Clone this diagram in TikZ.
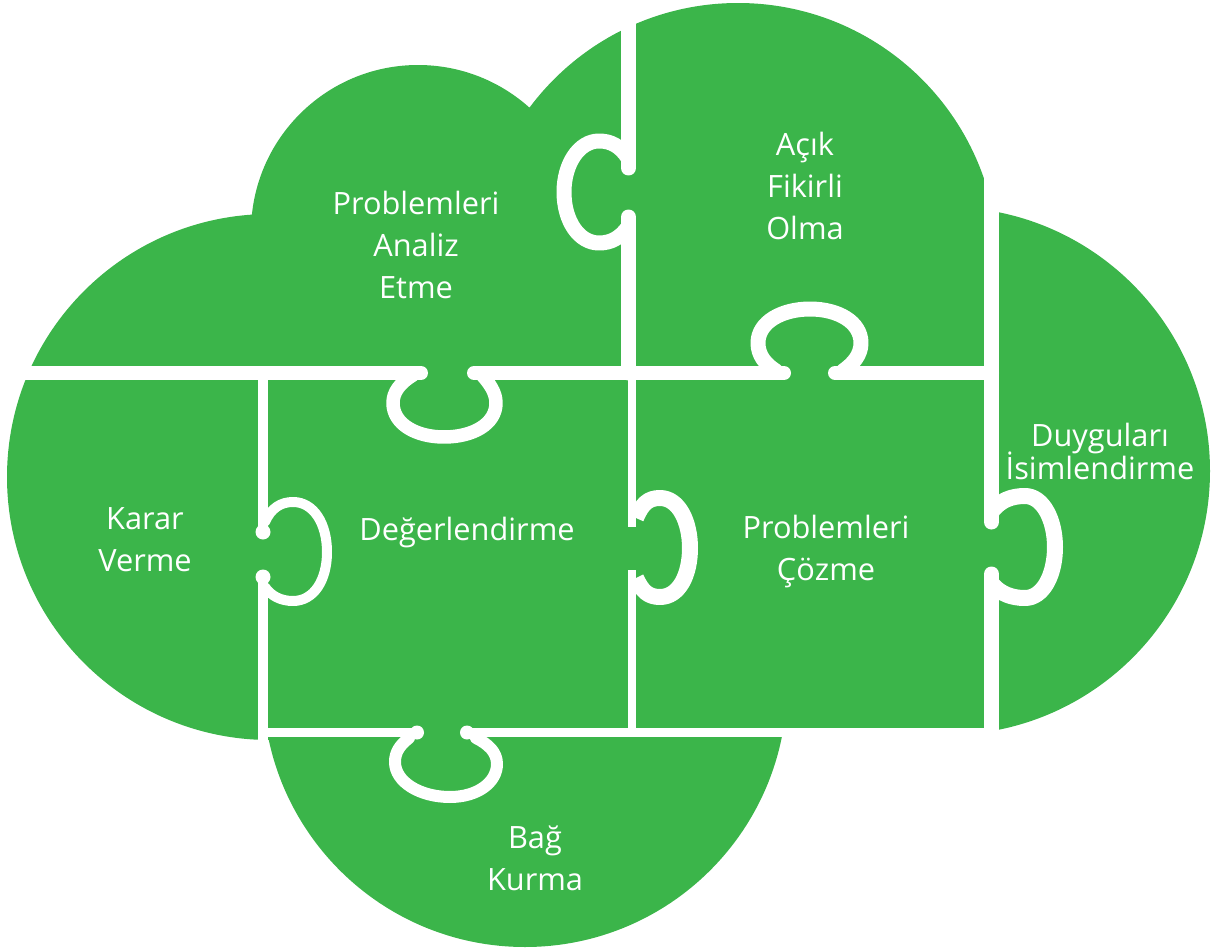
\documentclass[tikz,border=0pt]{standalone}
\usepackage{fontspec}
\setmainfont{Open Sans}
\definecolor{leaf}{RGB}{59,181,74}
\newcommand\tightlines{\lineskiplimit=-50pt\relax}

\begin{document}
\begin{tikzpicture}[x=0.02cm, y=-0.02cm,
  seam/.style={draw=white, line width=#1, line cap=round},
  flatseam/.style={draw=white, line width=#1},
  loopline/.style={draw=white, line width=#1, line cap=round, line join=round},
  flatloop/.style={draw=white, line width=#1, line join=round},
  bulb/.style={fill=white},
  piecetext/.style={text=white, align=center, inner sep=0pt,
    font=\fontsize{17.5}{23.9}\selectfont\tightlines},
]
\useasboundingbox (0,0) rectangle (1215,950);

% cloud body: circles and the central block
\fill[leaf] (270,477) circle[radius=263]
            (418,232) circle[radius=167]
            (738,263) circle[radius=260]
            (525,685) circle[radius=262];
\fill[leaf] (268,380) rectangle (983,728);
\fill[leaf] (636,176) rectangle (983,380);
\begin{scope}
  \clip (983,0) rectangle (1215,950);
  \fill[leaf] (946,471) circle[radius=264];
\end{scope}

% straight seams between the pieces
\draw[seam=0.28cm] (0,373) -- (421,373);
\draw[seam=0.28cm] (474,373) -- (784,373);
\draw[seam=0.28cm] (835,373) -- (992,373);
\draw[seam=0.3cm] (628.5,0) -- (628.5,168);
\draw[seam=0.3cm] (628.5,217) -- (628.5,373);
\draw[flatseam=0.16cm] (632,373) -- (632,527);
\draw[flatseam=0.16cm] (632,570) -- (632,733);
\draw[seam=0.2cm] (263,373) -- (263,532);
\draw[seam=0.2cm] (263,577) -- (263,742);
\draw[seam=0.3cm] (991.5,150) -- (991.5,522);
\draw[seam=0.3cm] (991.5,574) -- (991.5,745);
\draw[flatseam=0.18cm] (263,732.5) -- (417,732.5);
\draw[flatseam=0.18cm] (467,732.5) -- (992,732.5);

% rounded lips at the narrow seams
\fill[bulb] (263,532) circle[radius=7.5] (263,577) circle[radius=7.5];
\fill[bulb] (417,732.5) circle[radius=7] (467,732.5) circle[radius=7];

% knob outlines
\draw[loopline=0.3cm] (628,158) .. controls (620,146) and (611,141) .. (599,141)
  .. controls (579,141) and (564,164) .. (564,192)
  .. controls (564,221) and (579,243) .. (599,243)
  .. controls (611,243) and (620,238) .. (628,227);
\draw[loopline=0.3cm] (776,371) .. controls (765,364) and (758,355) .. (758,343)
  .. controls (758,322) and (782,309) .. (810,309)
  .. controls (838,309) and (861,322) .. (861,343)
  .. controls (861,355) and (853,364) .. (843,371);
\draw[loopline=0.27cm] (413,375) .. controls (400,383) and (393,392) .. (393,403)
  .. controls (393,424) and (416,437) .. (444,437)
  .. controls (473,437) and (496,424) .. (496,403)
  .. controls (496,392) and (489,383) .. (482,375);
\draw[loopline=0.2cm] (265,522) .. controls (271,508) and (281,502) .. (293,502)
  .. controls (314,502) and (327,524) .. (327,552)
  .. controls (327,580) and (314,601) .. (293,601)
  .. controls (281,601) and (271,596) .. (265,587);
\draw[flatloop=0.32cm] (636,518) .. controls (642,504) and (648,498) .. (660,498)
  .. controls (679,498) and (690,522) .. (690,548)
  .. controls (690,575) and (679,597) .. (660,597)
  .. controls (648,597) and (642,591) .. (636,578);
\draw[loopline=0.32cm] (993,510) .. controls (1001,500) and (1012,496) .. (1025,496)
  .. controls (1043,496) and (1055,520) .. (1055,547)
  .. controls (1055,575) and (1043,598) .. (1025,598)
  .. controls (1012,598) and (1001,594) .. (993,585);
\draw[loopline=0.24cm] (409,738) .. controls (400,745) and (395,752) .. (395,762)
  .. controls (395,782) and (420,797) .. (450,797)
  .. controls (478,797) and (497,782) .. (497,764)
  .. controls (497,752) and (488,744) .. (476,738);

% piece labels
\node[piecetext] (analiz) at (416,245) {Problemleri\\Analiz\\Etme};
\node[piecetext] (acik) at (805,186) {Açık\\Fikirli\\Olma};
\node[piecetext] (karar) at (145,540) {Karar\\Verme};
\node[piecetext, anchor=base] (deger) at (467,540) {Değerlendirme};
\node[piecetext] (cozme) at (826,552) {Problemleri\\Çözme};
\node[piecetext, font=\fontsize{17.5}{18.8}\selectfont\tightlines] (duygu) at (1100,451) {Duyguları\\İsimlendirme};
\node[piecetext] (bag) at (535,858) {Bağ\\Kurma};
\end{tikzpicture}
\end{document}
